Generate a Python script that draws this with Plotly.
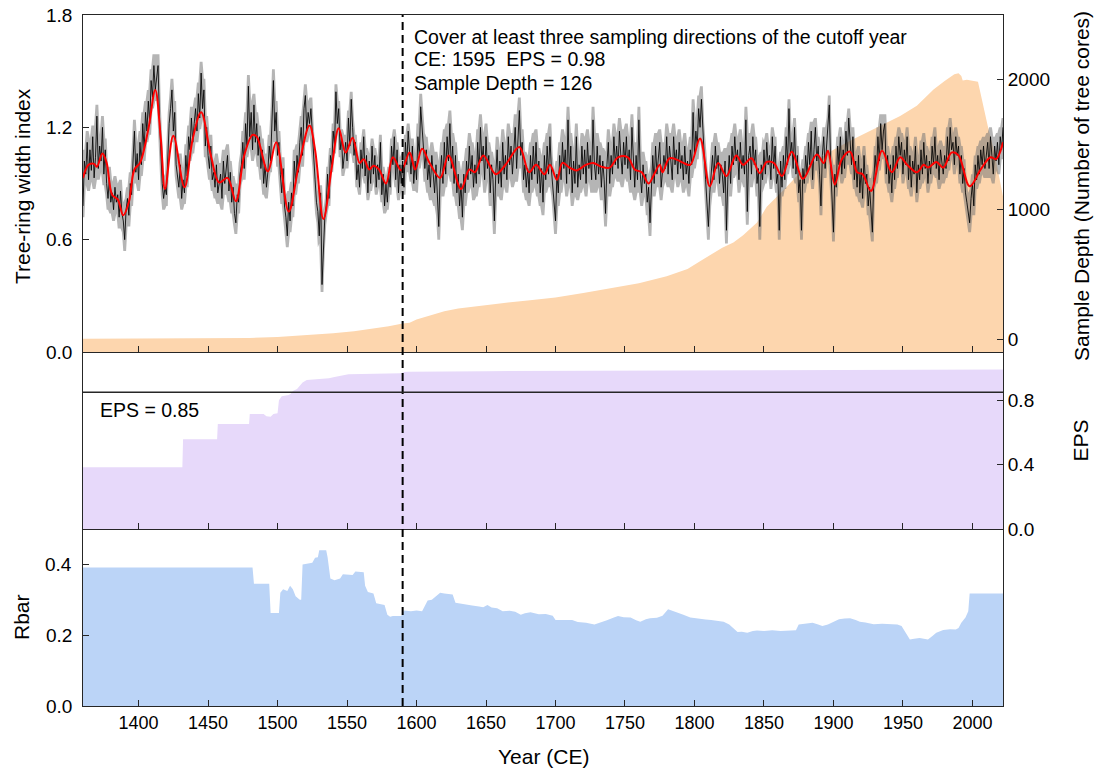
import plotly.graph_objects as go

# ---------------------------------------------------------------
# Tree-ring width index (annual values, first year 1360)
# ---------------------------------------------------------------
FIRST_YEAR = 1360
ring_index = [
    0.78, 1.02, 0.95, 1.12, 0.92, 1.08, 0.97, 1.15, 0.93, 1.04,  # 1360s
    1.26, 0.98, 1.10, 1.02, 1.20, 0.95, 1.08, 0.90, 0.82, 0.93,  # 1370s
    0.80, 0.85, 0.76, 0.88, 0.80, 0.84, 0.72, 0.86, 0.74, 0.70,  # 1380s
    0.60, 0.76, 0.82, 0.73, 0.90, 0.84, 1.02, 1.18, 0.96, 1.06,  # 1390s
    0.92, 1.12, 1.00, 1.22, 1.08, 1.28, 1.18, 1.34, 1.22, 1.45,  # 1400s
    1.36, 1.53, 1.40, 1.48, 1.53, 1.25, 1.05, 0.90, 0.82, 0.88,  # 1410s
    0.84, 1.10, 1.22, 1.30, 1.40, 1.18, 1.28, 1.00, 0.95, 0.88,  # 1420s
    1.00, 0.82, 0.92, 0.85, 1.05, 0.94, 1.15, 1.08, 1.25, 1.12,  # 1430s
    1.22, 1.30, 1.18, 1.38, 1.25, 1.49, 1.30, 1.40, 1.10, 1.20,  # 1440s
    1.05, 0.98, 1.10, 0.92, 0.96, 0.88, 1.00, 0.85, 0.90, 0.95,  # 1450s
    0.82, 1.02, 0.90, 0.98, 1.05, 0.86, 0.96, 0.80, 0.88, 0.74,  # 1460s
    0.69, 0.84, 0.80, 0.95, 1.00, 1.12, 0.98, 1.22, 1.10, 1.42,  # 1470s
    1.15, 1.28, 1.08, 1.32, 1.12, 1.22, 1.05, 1.15, 0.98, 1.08,  # 1480s
    0.90, 1.00, 0.88, 0.96, 1.10, 1.02, 1.25, 1.45, 1.18, 1.28,  # 1490s
    1.05, 1.12, 0.95, 0.85, 0.98, 0.78, 0.72, 0.62, 0.80, 0.70,  # 1500s
    0.85, 0.78, 1.02, 0.90, 1.05, 0.96, 1.12, 1.20, 1.05, 1.30,  # 1510s
    1.37, 1.18, 1.28, 1.22, 1.30, 1.15, 1.05, 0.92, 0.80, 0.75,  # 1520s
    0.62, 0.85, 0.36, 0.58, 0.72, 0.78, 0.95, 0.82, 1.05, 1.00,  # 1530s
    1.18, 1.10, 1.39, 1.22, 1.30, 1.08, 1.15, 0.98, 1.05, 1.12,  # 1540s
    1.02, 1.25, 1.10, 1.35, 1.20, 1.05, 1.12, 0.92, 1.00, 0.88,  # 1550s
    1.08, 0.98, 1.15, 0.94, 1.05, 0.85, 1.02, 0.90, 1.10, 0.95,  # 1560s
    1.05, 0.88, 1.00, 0.92, 1.12, 0.84, 0.95, 0.78, 0.90, 0.80,  # 1570s
    0.95, 0.88, 1.10, 1.00, 1.15, 0.92, 1.08, 0.85, 1.00, 0.90,  # 1580s
    1.02, 0.88, 1.12, 1.00, 1.18, 1.05, 0.95, 1.10, 0.90, 1.02,  # 1590s
    0.92, 1.15, 1.05, 1.31, 1.20, 1.10, 0.98, 1.08, 0.92, 1.00,  # 1600s
    0.88, 1.05, 0.95, 0.85, 1.00, 0.80, 0.67, 0.95, 1.05, 0.90,  # 1610s
    1.12, 0.95, 1.15, 1.02, 1.22, 0.98, 1.10, 0.90, 1.05, 0.85,  # 1620s
    0.95, 0.78, 0.90, 0.72, 0.95, 0.85, 1.02, 0.92, 1.10, 0.95,  # 1630s
    1.05, 0.88, 1.00, 0.90, 1.12, 0.95, 1.20, 1.02, 1.10, 0.92,  # 1640s
    1.15, 0.98, 1.05, 0.85, 1.00, 0.92, 0.70, 0.95, 1.08, 0.90,  # 1650s
    1.02, 0.88, 1.12, 0.95, 1.05, 0.92, 1.15, 1.00, 1.10, 0.95,  # 1660s
    1.08, 1.20, 0.98, 1.15, 1.29, 1.05, 1.12, 0.92, 1.00, 0.88,  # 1670s
    0.98, 0.85, 1.05, 0.92, 1.10, 0.95, 1.12, 0.90, 1.02, 0.85,  # 1680s
    0.98, 0.80, 1.05, 0.92, 1.10, 0.95, 1.15, 0.98, 0.90, 0.82,  # 1690s
    0.70, 0.95, 0.85, 1.05, 0.92, 1.12, 0.98, 1.08, 0.90, 1.24,  # 1700s
    0.95, 1.10, 0.85, 1.02, 0.90, 1.15, 0.88, 1.00, 0.92, 1.10,  # 1710s
    0.95, 1.08, 0.90, 1.12, 0.98, 1.05, 0.92, 1.24, 1.00, 0.92,  # 1720s
    1.10, 0.95, 1.05, 0.88, 1.02, 0.92, 0.74, 1.00, 1.12, 0.90,  # 1730s
    1.05, 0.95, 1.15, 1.00, 1.10, 0.98, 1.18, 1.05, 0.95, 1.12,  # 1740s
    1.00, 1.15, 0.98, 1.08, 0.92, 1.20, 1.00, 0.88, 1.05, 0.92,  # 1750s
    1.24, 0.95, 0.85, 1.00, 0.90, 0.95, 0.80, 0.88, 0.69, 0.92,  # 1760s
    1.05, 0.90, 1.10, 0.95, 1.02, 1.12, 0.88, 0.95, 1.05, 0.98,  # 1770s
    1.15, 0.95, 1.10, 1.02, 0.92, 1.15, 1.00, 1.08, 0.95, 1.12,  # 1780s
    0.98, 1.05, 0.92, 1.10, 0.95, 1.02, 0.90, 1.08, 1.00, 1.28,  # 1790s
    1.05, 1.18, 1.10, 1.30, 1.20, 1.35, 1.15, 1.05, 0.92, 0.80,  # 1800s
    0.67, 0.85, 0.95, 1.05, 0.92, 1.10, 0.98, 1.05, 0.90, 1.00,  # 1810s
    0.95, 0.85, 1.02, 0.65, 0.92, 1.05, 0.90, 1.10, 1.00, 1.15,  # 1820s
    1.02, 1.08, 0.92, 1.12, 0.98, 1.05, 0.95, 1.24, 0.75, 1.05,  # 1830s
    1.10, 0.95, 1.15, 1.00, 1.08, 0.90, 0.98, 0.67, 1.00, 0.92,  # 1840s
    1.08, 0.95, 1.12, 1.00, 1.05, 0.92, 1.15, 0.98, 1.10, 0.90,  # 1850s
    0.95, 0.65, 1.02, 0.88, 1.05, 0.92, 1.15, 1.00, 1.30, 1.05,  # 1860s
    1.12, 0.98, 1.20, 0.95, 1.05, 0.85, 0.92, 0.65, 0.98, 0.90,  # 1870s
    1.05, 0.95, 1.12, 1.00, 1.18, 0.92, 1.08, 1.20, 1.02, 1.10,  # 1880s
    0.95, 0.78, 1.05, 1.15, 0.98, 1.10, 1.20, 1.32, 1.00, 0.85,  # 1890s
    0.64, 0.95, 0.88, 1.10, 1.00, 1.15, 0.95, 1.08, 0.98, 1.18,  # 1900s
    1.05, 1.25, 1.10, 1.00, 1.15, 0.92, 1.02, 0.88, 1.05, 0.85,  # 1910s
    0.98, 0.82, 1.05, 0.90, 0.95, 0.78, 0.88, 0.72, 0.64, 0.92,  # 1920s
    1.05, 0.95, 1.15, 1.02, 1.22, 1.08, 1.18, 1.22, 0.95, 1.05,  # 1930s
    0.90, 1.00, 0.85, 1.05, 0.92, 1.10, 0.98, 1.15, 1.05, 1.12,  # 1940s
    0.95, 1.08, 1.00, 1.15, 0.92, 1.05, 0.88, 1.02, 0.95, 1.10,  # 1950s
    0.85, 1.00, 0.92, 1.08, 0.95, 1.12, 0.98, 1.05, 0.90, 1.02,  # 1960s
    0.95, 1.10, 1.00, 1.15, 0.98, 1.05, 0.92, 1.08, 1.00, 0.95,  # 1970s
    1.05, 0.98, 1.15, 1.02, 1.20, 1.08, 1.12, 1.00, 1.15, 1.05,  # 1980s
    1.10, 0.95, 1.05, 0.90, 0.98, 0.85, 0.80, 0.75, 0.69, 0.82,  # 1990s
    0.90, 0.78, 1.00, 0.92, 1.05, 0.95, 1.08, 1.00, 1.10, 0.98,  # 2000s
    1.05, 1.12, 0.98, 1.15, 1.05, 0.95, 1.10, 1.02, 1.12, 1.00,  # 2010s
    1.15, 1.08, 1.20,                                            # 2020-2022
]
years = list(range(FIRST_YEAR, FIRST_YEAR + len(ring_index)))

# extra margin of the confidence band beyond the local range, one value per decade
band_margin_by_decade = (
    [0.06] * 17      # 1360s-1520s
    + [0.04] * 7     # 1530s-1590s
    + [0.07] * 25    # 1600s-1840s
    + [0.05] * 18    # 1850s-2020s
)

# low-pass filtered index
smooth_years = [1360, 1364, 1368, 1370, 1374, 1377, 1381, 1385, 1389, 1393, 1397,
                1401, 1407, 1412, 1416, 1419, 1425, 1433, 1439, 1445, 1452, 1458,
                1464, 1470, 1476, 1482, 1485, 1493, 1499, 1508, 1515, 1523, 1527,
                1533, 1539, 1544, 1549, 1554, 1559, 1562, 1566, 1569, 1573, 1578,
                1583, 1589, 1595, 1599, 1604, 1609, 1617, 1623, 1632, 1638, 1642,
                1648, 1657, 1664, 1674, 1681, 1686, 1692, 1696, 1701, 1705, 1710,
                1715, 1722, 1727, 1733, 1739, 1745, 1752, 1757, 1762, 1767, 1771,
                1775, 1777, 1782, 1788, 1792, 1797, 1804, 1811, 1817, 1823, 1830,
                1835, 1841, 1847, 1852, 1857, 1863, 1870, 1878, 1888, 1893, 1896,
                1901, 1906, 1912, 1917, 1921, 1927, 1935, 1942, 1948, 1953, 1960,
                1965, 1968, 1974, 1979, 1985, 1990, 1998, 2006, 2013, 2017, 2022]
smooth_index = [0.93, 1.00, 1.005, 0.99, 1.06, 1.01, 0.84, 0.815, 0.73, 0.80, 0.975,
                1.01, 1.19, 1.40, 1.14, 0.87, 1.155, 0.88, 1.14, 1.28, 1.05, 0.905,
                0.93, 0.805, 1.05, 1.16, 1.15, 0.965, 1.12, 0.75, 0.985, 1.21, 1.08,
                0.71, 0.985, 1.195, 1.065, 1.145, 1.01, 1.03, 0.975, 0.995, 0.975, 0.90,
                1.04, 0.97, 1.065, 0.975, 1.085, 1.015, 0.93, 1.05, 0.87, 0.975, 0.96,
                1.05, 0.95, 1.00, 1.095, 0.96, 1.00, 0.95, 1.00, 0.92, 1.01, 0.985,
                0.97, 1.00, 1.01, 0.99, 0.985, 1.04, 1.04, 0.975, 0.96, 0.90, 0.95,
                1.00, 0.96, 1.035, 1.025, 1.01, 1.00, 1.14, 0.885, 1.01, 0.94, 1.05,
                1.00, 1.035, 0.955, 1.015, 1.01, 0.94, 1.07, 0.925, 1.055, 1.01, 1.075,
                0.895, 1.03, 1.07, 0.96, 0.95, 0.86, 1.075, 0.96, 1.04, 1.00, 0.96,
                1.00, 0.985, 1.015, 0.985, 1.065, 1.05, 0.885, 0.975, 1.04, 1.03, 1.12]

# sample depth (number of tree cores)
depth_years = [1360, 1400, 1430, 1460, 1480, 1500, 1520, 1540, 1555, 1570, 1580,
               1590, 1595, 1600, 1610, 1620, 1630, 1640, 1660, 1680, 1700, 1720,
               1740, 1760, 1780, 1795, 1804, 1812, 1820, 1828, 1835, 1845, 1852,
               1865, 1876, 1890, 1900, 1912, 1924, 1936, 1948, 1960, 1972, 1980,
               1987, 1990, 1992, 1993, 1996, 2004, 2006, 2011, 2016, 2020, 2022]
depth_cores = [3, 4, 5, 6, 8, 15, 28, 45, 60, 80, 98,
               120, 126, 150, 185, 215, 235, 250, 275, 298, 320, 355,
               390, 430, 485, 540, 600, 650, 705, 745, 800, 900, 1020,
               1160, 1285, 1390, 1460, 1530, 1595, 1660, 1720, 1800, 1925, 1990,
               2043, 2050, 2030, 1995, 2000, 1985, 1880, 1645, 1430, 1210, 1100]

# expressed population signal (running)
eps_years = [1360, 1431.5, 1432, 1456.5, 1457, 1479.5, 1480, 1490, 1492, 1495, 1497,
             1500, 1501, 1503, 1508, 1509.5, 1511, 1514, 1516, 1518, 1521, 1526,
             1531, 1537, 1541, 1546, 1551, 1570, 1589, 1591, 1594, 1650, 1700, 1850, 2022]
eps_values = [0.383, 0.383, 0.557, 0.557, 0.653, 0.653, 0.715, 0.715, 0.70, 0.698, 0.715,
              0.72, 0.80, 0.825, 0.833, 0.84, 0.858, 0.87, 0.89, 0.91, 0.926, 0.93,
              0.935, 0.937, 0.945, 0.952, 0.961, 0.965, 0.968, 0.976, 0.978, 0.981, 0.983,
              0.988, 0.992]

# mean inter-series correlation (running)
rbar_years = [1360, 1482, 1483, 1494, 1495, 1501, 1502, 1504, 1507, 1509, 1511,
              1513, 1516, 1517, 1518, 1525, 1527, 1529, 1530, 1535, 1536, 1538,
              1541, 1545, 1547, 1554, 1556, 1562, 1563, 1565, 1569, 1571, 1577,
              1579, 1581, 1583, 1589, 1591, 1596, 1600, 1604, 1606, 1608, 1611,
              1614, 1617, 1620, 1626, 1628, 1632, 1636, 1640, 1645, 1648, 1651,
              1654, 1658, 1662, 1667, 1671, 1675, 1678, 1682, 1688, 1693, 1698,
              1700, 1706, 1712, 1716, 1722, 1728, 1732, 1737, 1742, 1745, 1749,
              1754, 1758, 1761, 1765, 1768, 1773, 1777, 1781, 1785, 1789, 1792,
              1797, 1803, 1808, 1812, 1817, 1821, 1825, 1828, 1831, 1834, 1838,
              1842, 1845, 1850, 1856, 1862, 1868, 1873, 1875, 1880, 1885, 1889,
              1892, 1896, 1900, 1904, 1908, 1912, 1916, 1919, 1923, 1929, 1935,
              1940, 1946, 1949, 1952, 1955, 1958, 1962, 1965, 1968, 1971, 1974,
              1979, 1984, 1988, 1990, 1992, 1995, 1997, 1998, 2022]
rbar_values = [0.391, 0.391, 0.345, 0.345, 0.263, 0.263, 0.32, 0.33, 0.325, 0.34, 0.33,
               0.31, 0.30, 0.30, 0.40, 0.405, 0.419, 0.42, 0.44, 0.44, 0.42, 0.36,
               0.355, 0.36, 0.372, 0.37, 0.38, 0.378, 0.34, 0.322, 0.318, 0.29, 0.285,
               0.258, 0.252, 0.254, 0.254, 0.27, 0.268, 0.27, 0.268, 0.285, 0.298, 0.30,
               0.31, 0.32, 0.318, 0.315, 0.292, 0.29, 0.287, 0.284, 0.281, 0.279, 0.285,
               0.278, 0.276, 0.268, 0.269, 0.266, 0.258, 0.262, 0.265, 0.259, 0.26, 0.255,
               0.243, 0.242, 0.243, 0.237, 0.235, 0.23, 0.235, 0.242, 0.25, 0.254, 0.251,
               0.25, 0.242, 0.238, 0.245, 0.248, 0.249, 0.255, 0.273, 0.268, 0.262, 0.258,
               0.25, 0.246, 0.244, 0.243, 0.24, 0.238, 0.23, 0.218, 0.209, 0.21, 0.207,
               0.212, 0.213, 0.212, 0.214, 0.212, 0.214, 0.214, 0.23, 0.233, 0.235, 0.23,
               0.226, 0.23, 0.238, 0.245, 0.247, 0.248, 0.243, 0.238, 0.236, 0.231, 0.232,
               0.231, 0.23, 0.226, 0.207, 0.188, 0.19, 0.192, 0.19, 0.188, 0.197, 0.207,
               0.215, 0.217, 0.216, 0.22, 0.235, 0.25, 0.268, 0.318, 0.318]

x_ticks = [1400, 1450, 1500, 1550, 1600, 1650, 1700, 1750, 1800, 1850, 1900, 1950, 2000]
index_ticks = [0.0, 0.6, 1.2, 1.8]
depth_ticks = [0, 1000, 2000]
eps_ticks = [0.0, 0.4, 0.8]
rbar_ticks = [0.0, 0.2, 0.4]
x_range = [1360, 2022]
cutoff_year = 1590
eps_threshold = 0.85
depth_floor = -100

# ---------------------------------------------------------------
FONT = "Liberation Sans, Arial, sans-serif"
AXIS_COLOR = "#262626"
ORANGE = "rgb(253,214,174)"
PURPLE = "rgb(231,217,250)"
BLUE = "rgb(187,212,247)"
TICK_SIZE = 19
TITLE_SIZE = 21
NOTE_SIZE = 19.5

# confidence band: local (3-year) range of the index widened by the decade margin
band_upper, band_lower = [], []
for i, (yr, v) in enumerate(zip(years, ring_index)):
    window = ring_index[max(0, i - 1): i + 2]
    m = band_margin_by_decade[(yr - FIRST_YEAR) // 10]
    band_upper.append(max(window) + m)
    band_lower.append(min(window) - m)

fig = go.Figure()

# sample depth area (base axis of the top panel, drawn underneath)
fig.add_trace(go.Scatter(x=x_range, y=[depth_floor, depth_floor], mode="lines",
                         line=dict(width=0), xaxis="x3", yaxis="y",
                         showlegend=False, hoverinfo="skip"))
fig.add_trace(go.Scatter(x=depth_years, y=depth_cores, mode="lines", fill="tonexty",
                         fillcolor=ORANGE, line=dict(width=0, color=ORANGE),
                         xaxis="x3", yaxis="y", showlegend=False))

# confidence band of the chronology
fig.add_trace(go.Scatter(x=years, y=band_upper, mode="lines", line=dict(width=0),
                         xaxis="x3", yaxis="y2", showlegend=False, hoverinfo="skip"))
fig.add_trace(go.Scatter(x=years, y=band_lower, mode="lines", line=dict(width=0),
                         fill="tonexty", fillcolor="rgba(120,120,120,0.55)",
                         xaxis="x3", yaxis="y2", showlegend=False, hoverinfo="skip"))
# annual chronology
fig.add_trace(go.Scatter(x=years, y=ring_index, mode="lines",
                         line=dict(color="black", width=0.85),
                         xaxis="x3", yaxis="y2", showlegend=False))
# smoothed chronology
fig.add_trace(go.Scatter(x=smooth_years, y=smooth_index, mode="lines",
                         line=dict(color="#ff0000", width=2, shape="spline", smoothing=1.0),
                         xaxis="x3", yaxis="y2", showlegend=False))

# EPS panel
fig.add_trace(go.Scatter(x=eps_years, y=eps_values, mode="lines", fill="tozeroy",
                         fillcolor=PURPLE, line=dict(width=0, color=PURPLE),
                         xaxis="x2", yaxis="y3", showlegend=False))

# Rbar panel
fig.add_trace(go.Scatter(x=rbar_years, y=rbar_values, mode="lines", fill="tozeroy",
                         fillcolor=BLUE, line=dict(width=0, color=BLUE),
                         xaxis="x", yaxis="y4", showlegend=False))

H_BOT = 177 / 691
H_MID = 354 / 691

common_x = dict(range=x_range, showgrid=False, zeroline=False, showline=True,
                linecolor=AXIS_COLOR, linewidth=1, mirror=True, ticks="inside",
                ticklen=6, tickcolor=AXIS_COLOR, tickvals=x_ticks)
common_y = dict(showgrid=False, zeroline=False, showline=True, linecolor=AXIS_COLOR,
                linewidth=1, ticks="inside", ticklen=6, tickcolor=AXIS_COLOR,
                tickfont=dict(family=FONT, size=TICK_SIZE, color="black"))

fig.update_layout(
    width=1099, height=771,
    margin=dict(l=83, r=96, t=15, b=65),
    paper_bgcolor="white", plot_bgcolor="rgba(0,0,0,0)",
    font=dict(family=FONT, size=TICK_SIZE, color="black"),
    xaxis=dict(**common_x, anchor="y4", domain=[0, 1],
               tickfont=dict(family=FONT, size=18, color="black")),
    xaxis2=dict(**common_x, anchor="y3", matches="x", showticklabels=False),
    xaxis3=dict(**common_x, anchor="y", matches="x", showticklabels=False),
    yaxis=dict(**common_y, domain=[H_MID, 1], anchor="x3", side="right",
               range=[depth_floor, 2500], tickvals=depth_ticks, mirror=True),
    yaxis2=dict(**common_y, overlaying="y", anchor="x3", side="left",
                range=[0, 1.8], tickvals=index_ticks, showticklabels=False),
    yaxis3=dict(**common_y, domain=[H_BOT, H_MID], anchor="x2", side="right",
                range=[0, 1.1], tickvals=eps_ticks, tickformat=".1f", mirror=True),
    yaxis4=dict(**common_y, domain=[0, H_BOT], anchor="x", side="left",
                range=[0, 0.5], tickvals=rbar_ticks, showticklabels=False, mirror=True),
)

# left-hand tick labels, placed next to the axis line at each tick value
for axis_ref, ticks in (("y2", index_ticks), ("y4", rbar_ticks)):
    for t in ticks:
        fig.add_annotation(text=f"{t:.1f}", x=0, y=t, xref="paper", yref=axis_ref,
                           xanchor="right", yanchor="middle", xshift=-9,
                           showarrow=False,
                           font=dict(family=FONT, size=TICK_SIZE, color="black"))

# cutoff year marker and EPS threshold
fig.add_shape(type="line", xref="x", yref="paper", x0=cutoff_year, x1=cutoff_year,
              y0=0, y1=1, line=dict(color="black", width=2, dash="8px,5px"), layer="above")
fig.add_shape(type="line", xref="paper", yref="y3", x0=0, x1=1,
              y0=eps_threshold, y1=eps_threshold,
              line=dict(color=AXIS_COLOR, width=1.5), layer="above")

def txt(text, x, y, xanchor="left", angle=0, size=NOTE_SIZE):
    fig.add_annotation(text=text, x=x, y=y, xref="paper", yref="paper",
                       xanchor=xanchor, yanchor="middle", showarrow=False,
                       textangle=angle, font=dict(family=FONT, size=size, color="black"))

txt("Cover at least three sampling directions of the cutoff year", 0.3575, 0.968)
txt("CE: 1595  EPS = 0.98", 0.3575, 0.936)
txt("Sample Depth = 126", 0.3575, 0.9016)
txt("EPS = 0.85", 0.0163, 0.4284)

# axis titles
txt("Tree-ring width index", -0.0663, 0.7525, xanchor="center", angle=-90, size=TITLE_SIZE)
txt("Rbar", -0.0663, 0.1288, xanchor="center", angle=-90, size=TITLE_SIZE)
txt("Sample Depth (Number of tree cores)", 1.0848, 0.7525, xanchor="center", angle=-90,
    size=TITLE_SIZE)
txt("EPS", 1.0848, 0.3842, xanchor="center", angle=-90, size=TITLE_SIZE)
fig.add_annotation(text="Year (CE)", x=0.5, y=-0.0738, xref="paper", yref="paper",
                   xanchor="center", yanchor="middle", showarrow=False,
                   font=dict(family=FONT, size=TITLE_SIZE, color="black"))

fig.write_html("out.html")
